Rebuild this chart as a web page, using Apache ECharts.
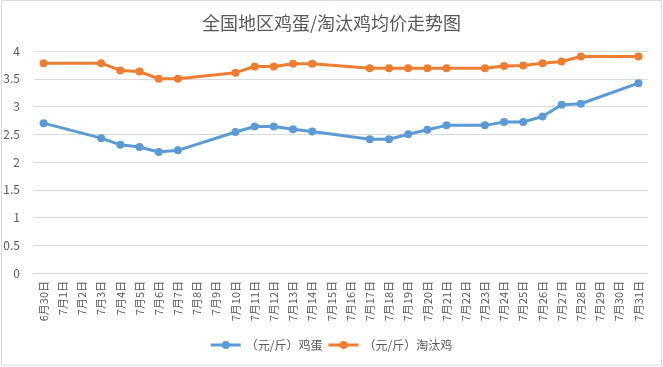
<!DOCTYPE html>
<html>
<head>
<meta charset="utf-8">
<script src="https://cdn.jsdelivr.net/npm/echarts@6/dist/echarts.min.js"></script>
<style>html,body{margin:0;padding:0;background:#fff;}#c{width:663px;height:367px;}</style>
</head>
<body>
<div id="c"></div>
<script>
var categories = ['6月30日','7月1日','7月2日','7月3日','7月4日','7月5日','7月6日','7月7日','7月8日','7月9日','7月10日','7月11日','7月12日','7月13日','7月14日','7月15日','7月16日','7月17日','7月18日','7月19日','7月20日','7月21日','7月22日','7月23日','7月24日','7月25日','7月26日','7月27日','7月28日','7月29日','7月30日','7月31日'];
var eggPrice = [2.70,null,null,2.43,2.31,2.27,2.18,2.21,null,null,2.54,2.64,2.64,2.59,2.55,null,null,2.41,2.41,2.50,2.58,2.66,null,2.66,2.72,2.72,2.82,3.03,3.05,null,null,3.42];
var henPrice = [3.78,null,null,3.78,3.65,3.63,3.50,3.50,null,null,3.61,3.72,3.72,3.77,3.77,null,null,3.69,3.69,3.69,3.69,3.69,null,3.69,3.73,3.74,3.78,3.81,3.90,null,null,3.90];
var seriesNames = ['（元/斤）鸡蛋','（元/斤）淘汰鸡'];
var titleText = '全国地区鸡蛋/淘汰鸡均价走势图';

var font = '"Noto Sans CJK SC", "Microsoft YaHei", sans-serif';
var legendIcon = 'path://M0,3.5L30,3.5L30,6.5L0,6.5Z M11,5A4,4 0 1 1 19,5A4,4 0 1 1 11,5Z';
var chart = echarts.init(document.getElementById('c'));
chart.setOption({
  animation: false,
  textStyle: {fontFamily: font},
  title: {text: titleText, left: 'center', top: 9, textStyle: {fontSize: 18, fontWeight: 'normal', color: '#595959', fontFamily: font}},
  graphic: [{type: 'rect', shape: {x: 1.5, y: 0.5, width: 660, height: 364.5}, style: {fill: 'none', stroke: '#d9d9d9', lineWidth: 1}, silent: true}],
  legend: {bottom: 11, left: 'center', itemWidth: 30, itemHeight: 8, itemGap: 6,
    icon: legendIcon,
    textStyle: {fontSize: 12, color: '#595959', fontFamily: font},
    data: seriesNames},
  grid: {left: 34, right: 15, top: 51, bottom: 94, containLabel: false},
  xAxis: {type: 'category', data: categories, boundaryGap: true,
    axisLine: {lineStyle: {color: '#d9d9d9'}},
    axisTick: {length: 5, lineStyle: {color: '#d9d9d9'}},
    axisLabel: {interval: 0, rotate: 90, fontSize: 11, color: '#595959', margin: 8, fontFamily: font}},
  yAxis: {type: 'value', min: 0, max: 4, interval: 0.5,
    axisLine: {show: false}, axisTick: {show: false},
    splitLine: {lineStyle: {color: '#d9d9d9'}},
    axisLabel: {fontSize: 12, color: '#595959', margin: 14, fontFamily: font}},
  series: [
    {name: seriesNames[0], type: 'line', data: eggPrice, connectNulls: true, symbol: 'circle', symbolSize: 8,
      lineStyle: {width: 3, color: '#5B9BD5'}, itemStyle: {color: '#5B9BD5'}},
    {name: seriesNames[1], type: 'line', data: henPrice, connectNulls: true, symbol: 'circle', symbolSize: 8,
      lineStyle: {width: 3, color: '#ED7D31'}, itemStyle: {color: '#ED7D31'}}
  ]
});
</script>
</body>
</html>
